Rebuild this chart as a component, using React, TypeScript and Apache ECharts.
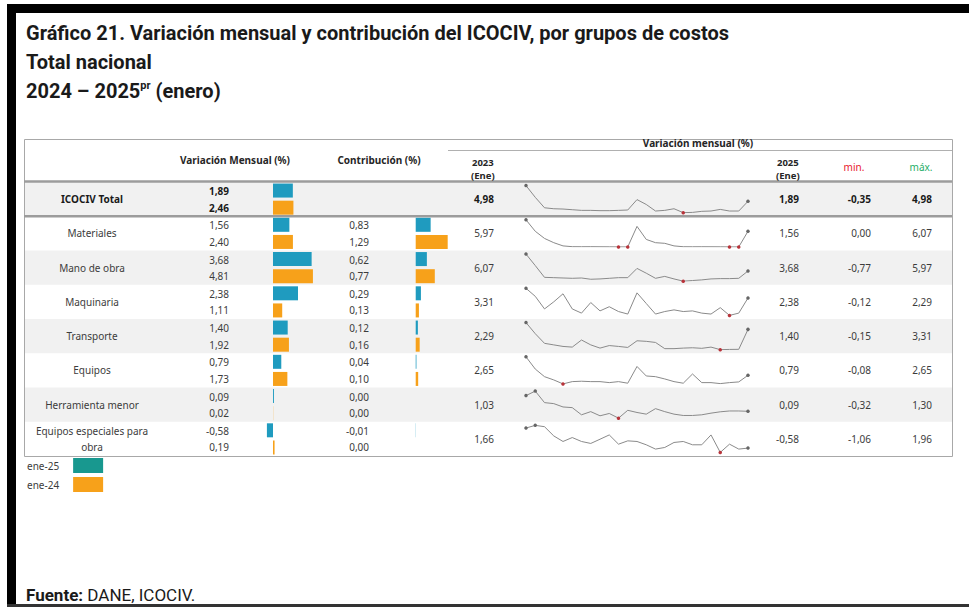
import React, { useEffect, useRef } from "react";
import * as echarts from "echarts";

// ---------------- DATA ----------------
const groups = [
  "ICOCIV Total",
  "Materiales",
  "Mano de obra",
  "Maquinaria",
  "Transporte",
  "Equipos",
  "Herramienta menor",
  "Equipos especiales para obra",
];
const legendNames = ["ene-25", "ene-24"];
const variacion25 = [1.89, 1.56, 3.68, 2.38, 1.4, 0.79, 0.09, -0.58];
const variacion24 = [2.46, 2.4, 4.81, 1.11, 1.92, 1.73, 0.02, 0.19];
const contribucion25 = [null, 0.83, 0.62, 0.29, 0.12, 0.04, 0.0, -0.01];
const contribucion24 = [null, 1.29, 0.77, 0.13, 0.16, 0.1, 0.0, 0.0];
const ene2023 = [4.98, 5.97, 6.07, 3.31, 2.29, 2.65, 1.03, 1.66];
const ene2025 = [1.89, 1.56, 3.68, 2.38, 1.4, 0.79, 0.09, -0.58];
const minimos = [-0.35, 0.0, -0.77, -0.12, -0.15, -0.08, -0.32, -1.06];
const maximos = [4.98, 6.07, 5.97, 2.29, 3.31, 2.65, 1.3, 1.96];

const meses = [
  "ene-23", "feb-23", "mar-23", "abr-23", "may-23", "jun-23", "jul-23", "ago-23", "sep-23", "oct-23", "nov-23", "dic-23",
  "ene-24", "feb-24", "mar-24", "abr-24", "may-24", "jun-24", "jul-24", "ago-24", "sep-24", "oct-24", "nov-24", "dic-24",
  "ene-25",
];
const spTotal = [4.98, 2.67, 0.61, 0.42, 0.36, 0.23, 0.1, 0.1, 0.04, 0.04, 0.1, 0.17, 2.22, 1.26, -0.03, 0.1, 0.42, -0.35, -0.3, -0.09, -0.03, 0.29, -0.03, -0.03, 1.89];
const spMateriales = [5.97, 3.45, 1.87, 0.93, 0.22, 0.05, 0.04, 0.05, 0.03, 0.02, 0.0, 0.0, 4.53, 1.65, 0.93, 0.79, 0.22, 0.04, 0.03, 0.04, 0.03, 0.02, 0.0, 0.0, 3.45];
const spManoObra = [6.07, 3.17, 0.19, 0.11, 0.03, -0.05, 0.03, -0.29, -0.21, -0.05, 0.11, 0.11, 2.45, 1.24, -0.05, 0.43, -0.21, -0.77, -0.61, -0.45, -0.21, -0.13, -0.13, -0.05, 1.8];
const spMaquinaria = [3.31, 2.3, 0.7, 1.6, 2.62, 0.7, 0.17, 1.51, 0.45, 0.98, 0.37, 0.05, 2.74, 1.39, 0.05, 0.37, 0.58, 0.37, 0.45, 0.17, 0.05, 0.86, -0.12, 0.17, 2.09];
const spTransporte = [2.29, 1.29, 0.42, 0.28, 0.14, 0.08, 0.72, 0.28, -0.01, 0.22, 0.14, 0.05, 0.65, 0.6, 0.5, -0.06, -0.06, -0.01, 0.02, -0.03, 0.08, -0.15, -0.13, -0.12, 1.68];
const spEquipos = [2.65, 1.42, 0.65, 0.32, -0.08, 0.15, 0.19, 0.15, 0.15, 0.05, 0.15, -0.01, 1.68, 0.72, 0.65, 0.42, 0.15, -0.01, 0.92, 0.05, 0.05, -0.05, 0.05, 0.12, 0.79];
const spHerramienta = [1.03, 1.3, 0.61, 0.55, 0.35, 0.31, -0.12, 0.07, -0.18, -0.04, -0.32, 0.15, 0.02, -0.08, 0.25, 0.07, -0.08, -0.16, -0.16, -0.12, -0.02, 0.06, 0.11, 0.11, 0.09];
const spEspeciales = [1.66, 1.96, 1.81, 0.78, 0.16, 0.6, 0.16, -0.06, 0.41, 0.89, -0.14, 0.23, 0.16, -0.21, -0.69, -0.51, 0.05, 0.16, -0.21, -0.21, 0.89, -1.06, -0.14, -0.69, -0.58];
const sparklines = [spTotal, spMateriales, spManoObra, spMaquinaria, spTransporte, spEquipos, spHerramienta, spEspeciales];

// ---------------- STYLE / LAYOUT ----------------
const W = 969;
const H = 607;
const FONT = "'Noto Sans', sans-serif";
const TFONT = "Roboto, 'Noto Sans', sans-serif";
const BLUE = "#1f9bbf";
const ORANGE = "#f7a11a";
const TXT = "#3c3c3c";
const HDR = "#262626";
const T_L = 24, T_R = 952, T_T = 139, T_B = 456;
const BODY_T = 182;
const ROW_H = (T_B - BODY_T) / groups.length;
const SP_L = 526, SP_W = 222;
const BODY_SIZE = 10;
const HDR_SIZE = 10;

const fmt = (v: number) => v.toFixed(2).replace(".", ",");

function txt(x: number, y: number, text: string, o: any = {}) {
  return {
    type: "text",
    x,
    y,
    z: 20,
    silent: true,
    style: {
      text,
      font: `${o.weight || "normal"} ${o.size || BODY_SIZE}px ${o.family || FONT}`,
      fill: o.color || TXT,
      textAlign: o.align || "left",
      textVerticalAlign: "middle",
    },
  };
}

function buildOption() {
  const graphics: any[] = [];
  // frame
  graphics.push({ type: "rect", z: 1, silent: true, shape: { x: 7, y: 4, width: W - 7, height: 9 }, style: { fill: "#000" } });
  graphics.push({ type: "rect", z: 1, silent: true, shape: { x: 7, y: 4, width: 9, height: H - 4 }, style: { fill: "#000" } });
  graphics.push({ type: "rect", z: 1, silent: true, shape: { x: 7, y: H - 3, width: W - 7, height: 3 }, style: { fill: "#333" } });

  // titles
  graphics.push(txt(26, 33, "Gráfico 21. Variación mensual y contribución del ICOCIV, por grupos de costos", { weight: "bold", size: 20, family: TFONT, color: "#1a1a1a" }));
  graphics.push(txt(26, 62, "Total nacional", { weight: "bold", size: 20, family: TFONT, color: "#1a1a1a" }));
  graphics.push({
    type: "text",
    x: 26,
    y: 91,
    z: 20,
    silent: true,
    style: {
      text: "{a|2024 – 2025}{s|pr}{a| (enero)}",
      textVerticalAlign: "middle",
      rich: {
        a: { font: `bold 20px ${TFONT}`, fill: "#1a1a1a", lineHeight: 22 },
        s: { font: `bold 11px ${TFONT}`, fill: "#1a1a1a", lineHeight: 13, verticalAlign: "top" },
      },
    },
  });

  // row backgrounds
  groups.forEach((_, r) => {
    if (r % 2 === 0) {
      graphics.push({ type: "rect", z: 0, silent: true, shape: { x: T_L, y: BODY_T + r * ROW_H, width: T_R - T_L, height: ROW_H }, style: { fill: "#f1f1f1" } });
    }
  });
  // table border & lines
  graphics.push({ type: "rect", z: 3, silent: true, shape: { x: T_L + 0.5, y: T_T + 0.5, width: T_R - T_L, height: T_B - T_T }, style: { fill: "none", stroke: "#a8a8a8", lineWidth: 1 } });
  graphics.push({ type: "line", z: 3, silent: true, shape: { x1: 448, y1: 150.5, x2: T_R, y2: 150.5 }, style: { stroke: "#b0b0b0", lineWidth: 1 } });
  graphics.push({ type: "line", z: 3, silent: true, shape: { x1: T_L, y1: BODY_T - 0.5, x2: T_R, y2: BODY_T - 0.5 }, style: { stroke: "#9c9c9c", lineWidth: 2.5 } });
  graphics.push({ type: "line", z: 3, silent: true, shape: { x1: T_L, y1: BODY_T + ROW_H, x2: T_R, y2: BODY_T + ROW_H }, style: { stroke: "#9c9c9c", lineWidth: 2.5 } });

  // headers
  graphics.push(txt(698, 143, "Variación mensual (%)", { weight: "bold", size: HDR_SIZE, color: HDR, align: "center" }));
  graphics.push(txt(235, 160, "Variación Mensual (%)", { weight: "bold", size: HDR_SIZE, color: HDR, align: "center" }));
  graphics.push(txt(379, 160, "Contribución (%)", { weight: "bold", size: HDR_SIZE, color: HDR, align: "center" }));
  graphics.push(txt(472, 162, "2023", { weight: "bold", size: 9.5, color: HDR }));
  graphics.push(txt(471, 175, "(Ene)", { weight: "bold", size: 9.5, color: HDR }));
  graphics.push(txt(777, 162, "2025", { weight: "bold", size: 9.5, color: HDR }));
  graphics.push(txt(776, 175, "(Ene)", { weight: "bold", size: 9.5, color: HDR }));
  graphics.push(txt(854, 167, "min.", { size: 10, color: "#e8202f", align: "center" }));
  graphics.push(txt(921, 167, "máx.", { size: 10, color: "#1fae68", align: "center" }));

  // body texts
  groups.forEach((g, r) => {
    const top = BODY_T + r * ROW_H;
    const y1 = top + ROW_H * 0.25 + 0.5;
    const y2 = top + ROW_H * 0.75;
    const mid = top + ROW_H / 2;
    const bold = r === 0 ? "bold" : "normal";
    const col = r === 0 ? "#1a1a1a" : TXT;
    if (g === "Equipos especiales para obra") {
      graphics.push(txt(92, y1, "Equipos especiales para", { align: "center" }));
      graphics.push(txt(92, y2, "obra", { align: "center" }));
    } else {
      graphics.push(txt(92, mid, g, { align: "center", weight: bold, color: col }));
    }
    graphics.push(txt(229, y1, fmt(variacion25[r]), { align: "right", weight: bold, color: col }));
    graphics.push(txt(229, y2, fmt(variacion24[r]), { align: "right", weight: bold, color: col }));
    const c25 = contribucion25[r];
    const c24 = contribucion24[r];
    if (c25 !== null) graphics.push(txt(369, y1, fmt(c25), { align: "right" }));
    if (c24 !== null) graphics.push(txt(369, y2, fmt(c24), { align: "right" }));
    graphics.push(txt(494, mid, fmt(ene2023[r]), { align: "right", weight: bold, color: col }));
    graphics.push(txt(799, mid, fmt(ene2025[r]), { align: "right", weight: bold, color: col }));
    graphics.push(txt(871, mid, fmt(minimos[r]), { align: "right", weight: bold, color: col }));
    graphics.push(txt(932, mid, fmt(maximos[r]), { align: "right", weight: bold, color: col }));
  });

  // grids
  const grids: any[] = [
    { left: 263, top: BODY_T, width: 50, height: T_B - BODY_T },
    { left: 410, top: BODY_T, width: 40, height: T_B - BODY_T },
  ];
  groups.forEach((_, r) => {
    grids.push({ left: SP_L, width: SP_W, top: BODY_T + r * ROW_H + 3.6, height: ROW_H - 7.2 });
  });

  const slots: string[] = [];
  groups.forEach((g) => {
    slots.push(g + " 25");
    slots.push(g + " 24");
  });

  const xAxes: any[] = [
    { type: "value", gridIndex: 0, min: -0.952, max: 3.81, show: false },
    { type: "value", gridIndex: 0, min: -1.205, max: 4.819, show: false },
    { type: "value", gridIndex: 1, min: -0.317, max: 1.905, show: false },
    { type: "value", gridIndex: 1, min: -0.23, max: 1.383, show: false },
  ];
  const yAxes: any[] = [
    { type: "category", gridIndex: 0, data: slots, inverse: true, show: false },
    { type: "category", gridIndex: 1, data: slots, inverse: true, show: false },
  ];
  groups.forEach((_, r) => {
    xAxes.push({ type: "category", gridIndex: 2 + r, data: meses, boundaryGap: false, show: false });
    yAxes.push({ type: "value", gridIndex: 2 + r, min: "dataMin", max: "dataMax", scale: true, show: false });
  });

  const even = (arr: (number | null)[]) => {
    const out: (number | null)[] = [];
    arr.forEach((v) => { out.push(v); out.push(null); });
    return out;
  };
  const odd = (arr: (number | null)[]) => {
    const out: (number | null)[] = [];
    arr.forEach((v) => { out.push(null); out.push(v); });
    return out;
  };

  const series: any[] = [
    { name: legendNames[0], type: "bar", xAxisIndex: 0, yAxisIndex: 0, data: even(variacion25), barWidth: 14, barGap: "-100%", itemStyle: { color: BLUE }, silent: true, z: 5 },
    { name: legendNames[1], type: "bar", xAxisIndex: 1, yAxisIndex: 0, data: odd(variacion24), barWidth: 14, barGap: "-100%", itemStyle: { color: ORANGE }, silent: true, z: 5 },
    { name: legendNames[0], type: "bar", xAxisIndex: 2, yAxisIndex: 1, data: even(contribucion25), barWidth: 14, barGap: "-100%", itemStyle: { color: BLUE }, silent: true, z: 5 },
    { name: legendNames[1], type: "bar", xAxisIndex: 3, yAxisIndex: 1, data: odd(contribucion24), barWidth: 14, barGap: "-100%", itemStyle: { color: ORANGE }, silent: true, z: 5 },
  ];

  sparklines.forEach((arr, r) => {
    const mn = Math.min(...arr);
    const mx = Math.max(...arr);
    const data = arr.map((v, i) => {
      if (v === mn) return { value: v, symbolSize: 3.5, itemStyle: { color: "#b8333a" } };
      if (i === 0 || i === arr.length - 1 || v === mx) return { value: v, symbolSize: 3.5, itemStyle: { color: "#666666" } };
      return { value: v, symbolSize: 0 };
    });
    series.push({
      type: "line",
      xAxisIndex: 4 + r,
      yAxisIndex: 2 + r,
      data,
      symbol: "circle",
      symbolSize: 0,
      showAllSymbol: true,
      lineStyle: { color: "#8a8a8a", width: 1 },
      itemStyle: { color: "#8a8a8a" },
      silent: true,
      z: 6,
    });
  });

  return {
    animation: false,
    backgroundColor: "#ffffff",
    grid: grids,
    xAxis: xAxes,
    yAxis: yAxes,
    legend: {
      show: true,
      orient: "vertical",
      left: 22,
      top: 453,
      align: "right",
      itemWidth: 30,
      itemHeight: 15,
      itemGap: 4,
      selectedMode: false,
      icon: "rect",
      textStyle: { fontFamily: FONT, fontSize: 10, color: TXT, padding: [0, 9, 0, 0] },
      data: [
        { name: legendNames[0], itemStyle: { color: "#18988f" } },
        { name: legendNames[1], itemStyle: { color: ORANGE } },
      ],
    },
    graphic: [
      ...graphics,
      {
        type: "text",
        x: 26,
        y: 595,
        z: 20,
        silent: true,
        style: {
          text: "{b|Fuente:}{n| DANE, ICOCIV.}",
          textVerticalAlign: "middle",
          rich: {
            b: { font: `bold 17px ${TFONT}`, fill: "#1a1a1a" },
            n: { font: `normal 17px ${TFONT}`, fill: "#1a1a1a" },
          },
        },
      },
    ],
    series,
  };
}

export default function App() {
  const ref = useRef<HTMLDivElement>(null);
  useEffect(() => {
    if (!ref.current) return;
    const chart = echarts.init(ref.current, null, { renderer: "svg", width: W, height: H });
    chart.setOption(buildOption() as any);
    return () => chart.dispose();
  }, []);
  return (
    <div
      ref={ref}
      style={{ position: "fixed", left: 0, top: 0, width: W, height: H, background: "#fff" }}
    />
  );
}
